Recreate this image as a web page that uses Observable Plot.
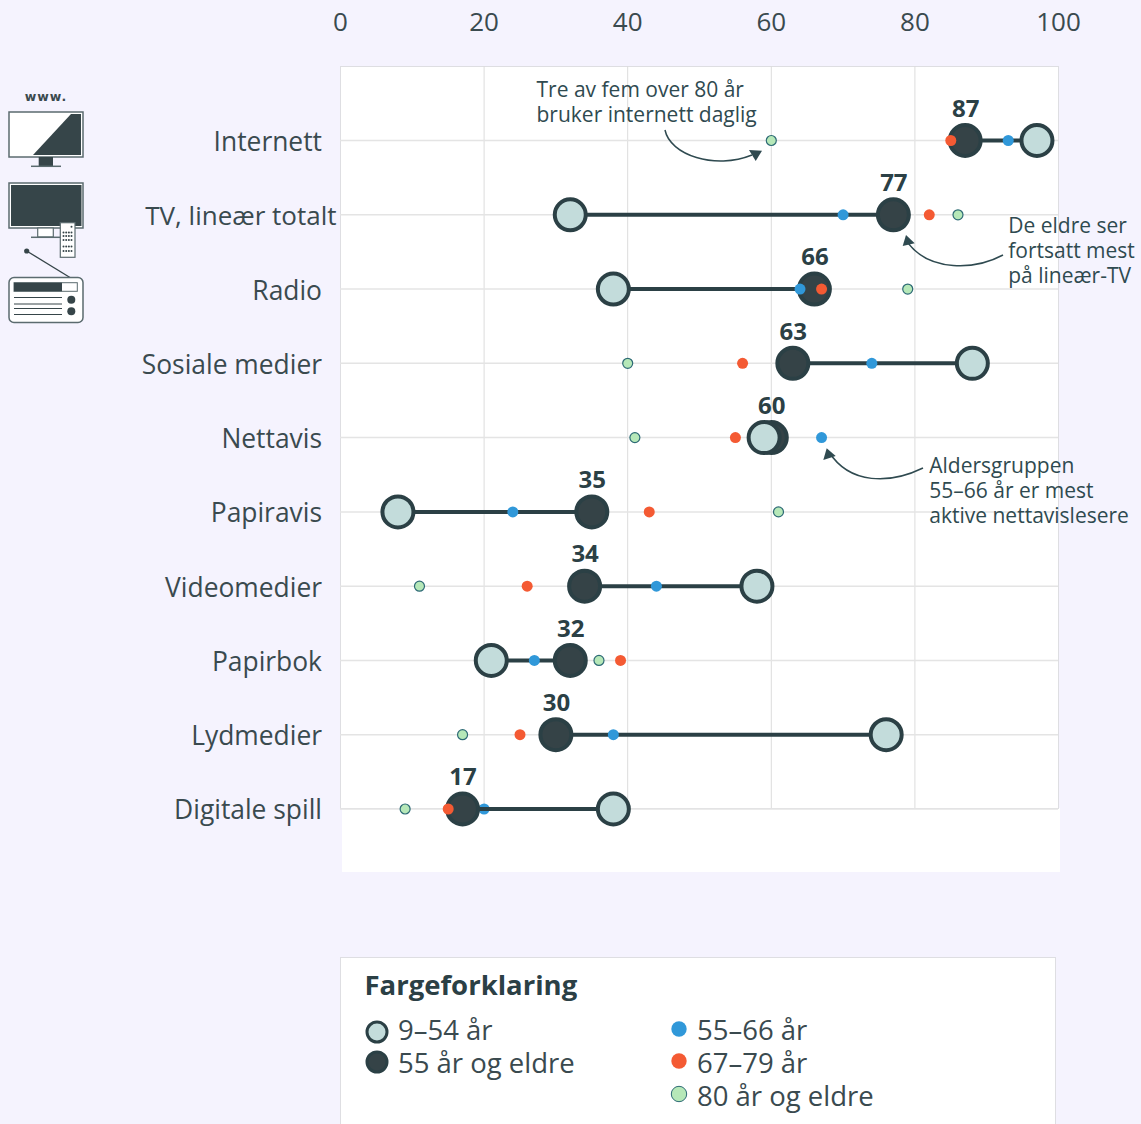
<!DOCTYPE html>
<html lang="no">
<head>
<meta charset="utf-8">
<title>Mediebruk</title>
<script src="https://cdn.jsdelivr.net/npm/d3@7"></script>
<script src="https://cdn.jsdelivr.net/npm/@observablehq/plot@0.6"></script>
<style>
  html, body { margin: 0; padding: 0; background: #f5f3fe; }
  body { width: 1141px; height: 1124px; position: relative; overflow: hidden; font-family: "Open Sans", sans-serif; }
  #chart, #chrome { position: absolute; left: 0; top: 0; }
  #chart svg { display: block; }
  #chrome { pointer-events: none; }
</style>
</head>
<body>
<svg id="chrome" width="1141" height="1124" viewBox="0 0 1141 1124">
  <rect x="342" y="808" width="718" height="64" fill="#fff"/>
  <rect x="340.5" y="957.5" width="715" height="180" fill="#fff" stroke="#dedee2"/>
  <g id="icons">
    <text x="46" y="101" text-anchor="middle" font-family="DejaVu Sans" font-weight="700" font-size="12.5" letter-spacing="1" fill="#3b4a4e">www.</text>
    <rect x="9" y="112" width="74" height="45" fill="#fff" stroke="#5b6b6f" stroke-width="1.5"/>
    <polygon points="33,155 81,155 81,114 71,114" fill="#364549"/>
    <rect x="38.7" y="157" width="14.3" height="9" fill="#364549"/>
    <line x1="31" x2="61" y1="166.3" y2="166.3" stroke="#5b6b6f" stroke-width="1.5"/>
    <rect x="9" y="183" width="74" height="45" fill="#fff" stroke="#5b6b6f" stroke-width="1.5"/>
    <rect x="11" y="185" width="70.5" height="41" fill="#364549"/>
    <rect x="37.7" y="228" width="15.6" height="9" fill="#fff" stroke="#5b6b6f" stroke-width="1.2"/>
    <line x1="31" x2="61" y1="237.3" y2="237.3" stroke="#5b6b6f" stroke-width="1.5"/>
    <rect x="60.3" y="222.7" width="14.7" height="34.6" fill="#fff" stroke="#5b6b6f" stroke-width="1.2"/>
    <g id="remote" fill="#364549"></g>
    <circle cx="26.7" cy="251" r="2.6" fill="#364549"/>
    <line x1="26.7" y1="251" x2="70" y2="277.5" stroke="#364549" stroke-width="1.3"/>
    <rect x="9" y="277.5" width="74" height="45" rx="5" fill="#fff" stroke="#5b6b6f" stroke-width="1.5"/>
    <rect x="14" y="282.7" width="63.3" height="8.6" fill="#fff" stroke="#5b6b6f"/>
    <rect x="14" y="282.7" width="48" height="8.6" fill="#364549"/>
    <g stroke="#364549" stroke-width="1">
      <line x1="14" x2="62" y1="297.5" y2="297.5"/>
      <line x1="14" x2="62" y1="304" y2="304"/>
      <line x1="14" x2="62" y1="308.5" y2="308.5"/>
      <line x1="14" x2="62" y1="314.5" y2="314.5"/>
    </g>
    <circle cx="71.3" cy="299.7" r="4" fill="#364549"/>
    <circle cx="71.3" cy="311.3" r="4" fill="#364549"/>
  </g>
  <g id="legend" font-family="Open Sans" fill="#3a4a4f"></g>
</svg>
<div id="chart"></div>
<script>
const categories = ["Internett", "TV, lineær totalt", "Radio", "Sosiale medier", "Nettavis", "Papiravis", "Videomedier", "Papirbok", "Lydmedier", "Digitale spill"];
const age9to54    = [97, 32, 38, 88, 59,  8, 58, 21, 76, 38];
const age55plus   = [87, 77, 66, 63, 60, 35, 34, 32, 30, 17];
const age55to66   = [93, 70, 64, 74, 67, 24, 44, 27, 38, 20];
const age67to79   = [85, 82, 67, 56, 55, 43, 26, 39, 25, 15];
const age80plus   = [60, 86, 79, 40, 41, 61, 11, 36, 17,  9];
const xTicks = [0, 20, 40, 60, 80, 100];
const legendTitle = "Fargeforklaring";
const legendLeft = ["9–54 år", "55 år og eldre"];
const legendRight = ["55–66 år", "67–79 år", "80 år og eldre"];
const notes = [
  {category: "Internett", x: 27.3, text: "Tre av fem over 80 år\nbruker internett daglig", shift: -39},
  {category: "TV, lineær totalt", x: 93, text: "De eldre ser\nfortsatt mest\npå lineær-TV", shift: 35.5},
  {category: "Nettavis", x: 82, text: "Aldersgruppen\n55–66 år er mest\naktive nettavislesere", shift: 52}
];

const INK = "#2b4045", DARK = "#354347", LIGHT = "#c3dcdb", BLUE = "#3098d9", RED = "#f45a33", GREEN = "#b6e8b8", GREENS = "#2d6a75", TEXT = "#3a4a4f", NOTE = "#2f4a50";
const rows = categories.map((c, i) => ({c, a: age9to54[i], b: age55plus[i], m: age55to66[i], o: age67to79[i], e: age80plus[i]}));

// Arrows of the annotations, as decoration in page pixels
const arrows = [
  {d: "M665,130 C670,155 715,170 752,155", head: "749,150 762,150.7 755.7,161"},
  {d: "M1003,255 C975,270 930,272 908,243", head: "902.7,246 906,235 914.7,243.3"},
  {d: "M923,468 C890,484 850,485 829,452", head: "823.3,460 826.7,448.3 835.7,456"}
];
function arrowMark() {
  const g = d3.create("svg:g");
  for (const a of arrows) {
    g.append("path").attr("d", a.d).attr("fill", "none").attr("stroke", NOTE).attr("stroke-width", 1.5);
    g.append("polygon").attr("points", a.head).attr("fill", NOTE);
  }
  return g.node();
}

const chart = Plot.plot({
  width: 1141, height: 1124,
  marginLeft: 340, marginRight: 83, marginTop: 66, marginBottom: 316,
  style: {background: "transparent", fontFamily: "Open Sans, sans-serif"},
  x: {domain: [0, 100], range: [340, 1058], ticks: xTicks},
  y: {type: "point", domain: categories, range: [140, 808.5], padding: 0, round: false},
  marks: [
    Plot.frame({fill: "#fff", stroke: "#dedee2"}),
    Plot.gridX(xTicks.slice(1, -1), {stroke: "#dcdcdc", strokeOpacity: 1}),
    Plot.ruleY(categories, {stroke: "#e4e4e4", strokeWidth: 1.5}),
    Plot.axisX(xTicks, {anchor: "top", tickSize: 0, tickPadding: 36, fontSize: 26, fill: TEXT, label: null}),
    Plot.axisY(categories.filter(c => c !== "TV, lineær totalt"), {anchor: "left", tickSize: 0, tickPadding: 18.5, fontSize: 26.4, fill: TEXT, label: null, dy: 2}),
    Plot.text(["TV, lineær totalt"], {x: 0, y: d => d, text: d => d, textAnchor: "end", dx: -4, dy: 2, fontSize: 26, fill: TEXT}),
    // Small dot hidden behind the connector in the last row
    Plot.dot(rows.filter(d => d.c === "Digitale spill"), {x: "m", y: "c", r: 5.5, fill: BLUE}),
    Plot.ruleY(rows, {y: "c", x1: "a", x2: "b", stroke: INK, strokeWidth: 4}),
    Plot.dot(rows, {x: "b", y: "c", r: 15.5, fill: DARK, stroke: INK, strokeWidth: 4}),
    Plot.dot(rows, {x: "a", y: "c", r: 15.5, fill: LIGHT, stroke: INK, strokeWidth: 4}),
    Plot.dot(rows.filter(d => d.c !== "Digitale spill"), {x: "m", y: "c", r: 5.5, fill: BLUE}),
    Plot.dot(rows, {x: "o", y: "c", r: 5.5, fill: RED}),
    Plot.dot(rows, {x: "e", y: "c", r: 5, fill: GREEN, stroke: GREENS, strokeWidth: 1.2}),
    Plot.text(rows, {x: "b", y: "c", text: d => String(d.b), dy: -31.5, dx: 0.5, fontSize: 24, fontWeight: 700, fill: INK}),
    ...notes.map(n => Plot.text([n], {x: "x", y: "category", text: "text", dy: n.shift, textAnchor: "start", fontSize: 21, lineHeight: 1.19, fill: NOTE})),
    arrowMark
  ]
});
document.getElementById("chart").append(chart);

// Remote control buttons
const remote = d3.select("#remote");
remote.append("circle").attr("cx", 71.5).attr("cy", 226.7).attr("r", 1);
for (const y of [232.5, 236, 240, 246.5, 251]) for (const x of [63.5, 66.2, 68.9, 71.5]) remote.append("circle").attr("cx", x).attr("cy", y).attr("r", 1);

// Legend
const lg = d3.select("#legend");
lg.append("text").attr("x", 364.5).attr("y", 995).attr("font-size", 27.5).attr("font-weight", 700).attr("fill", INK).text(legendTitle);
[[377, 1032, LIGHT], [377, 1062, DARK]].forEach(([x, y, f], i) => {
  lg.append("circle").attr("cx", x).attr("cy", y).attr("r", 10).attr("fill", f).attr("stroke", INK).attr("stroke-width", 3);
  lg.append("text").attr("x", 398).attr("y", 1040 + i * 33).attr("font-size", 27.5).text(legendLeft[i]);
});
[[1029, BLUE], [1061, RED], [1094, GREEN]].forEach(([y, f], i) => {
  lg.append("circle").attr("cx", 679).attr("cy", y).attr("r", 7.7).attr("fill", f).attr("stroke", i === 2 ? GREENS : "none").attr("stroke-width", 1);
  lg.append("text").attr("x", 697).attr("y", 1040 + i * 33).attr("font-size", 27.5).text(legendRight[i]);
});
</script>
</body>
</html>
